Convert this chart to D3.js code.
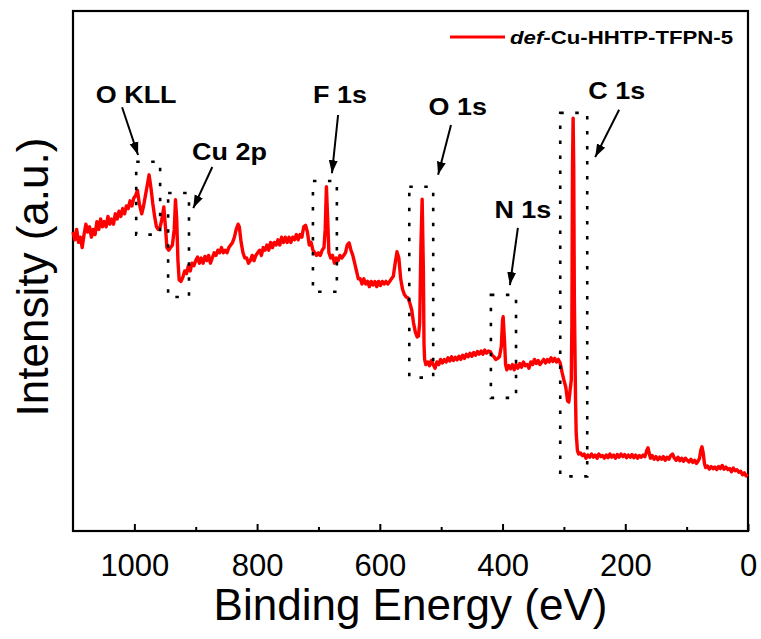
<!DOCTYPE html>
<html>
<head>
<meta charset="utf-8">
<script src="https://cdn.jsdelivr.net/npm/d3@7"></script>
<style>
  body { margin: 0; background: #fff; }
  text { font-family: "Liberation Sans", Arial, sans-serif; }
</style>
</head>
<body>
<div class="d3Chart"></div>
<script>
//#region data

// [binding energy (eV), intensity (a.u.)]
var spectrum = [
  [1100, 57.5], [1097, 56.0], [1094, 58.0], [1091, 55.5], [1088, 56.5], [1085, 54.5],
  [1082, 57.0], [1079, 59.0], [1076, 57.5], [1073, 58.5], [1070, 56.5], [1067, 58.0],
  [1064, 57.0], [1061, 59.5], [1058, 58.0], [1055, 60.0], [1052, 58.5], [1049, 59.5],
  [1046, 58.5], [1043, 60.5], [1040, 59.0], [1037, 60.0], [1034, 59.0], [1031, 61.0],
  [1028, 60.0], [1025, 61.5], [1022, 60.5], [1019, 62.0], [1016, 61.0], [1013, 62.5],
  [1010, 62.0], [1007, 63.5], [1004, 62.5], [1001, 64.0], [998, 64.5], [995, 65.5],
  [992, 63.0], [988, 61.0], [985, 62.5], [982, 64.5], [979, 66.5], [976, 68.5],
  [973, 66.0], [970, 63.0], [967, 60.5], [964, 58.5], [961, 58.0], [958, 58.5],
  [955, 60.0], [952, 62.3], [949, 58.0], [947, 54.5], [944, 54.0], [941, 54.5],
  [938, 55.0], [935, 58.0], [933, 63.7], [931, 60.0], [929, 52.0], [927, 48.3],
  [924, 48.0], [921, 48.8], [918, 50.0], [915, 49.5], [912, 51.0], [909, 50.0],
  [906, 51.5], [903, 51.0], [900, 52.0], [897, 52.7], [894, 51.5], [891, 52.5],
  [888, 51.5], [885, 52.8], [882, 52.0], [879, 53.0], [876, 51.5], [873, 52.5],
  [870, 53.5], [867, 53.0], [864, 54.0], [861, 53.5], [858, 54.5], [855, 53.5],
  [852, 54.0], [849, 53.5], [846, 54.5], [843, 55.0], [840, 55.5], [837, 56.5],
  [834, 58.0], [831, 59.0], [829, 58.5], [826, 55.5], [823, 53.5], [820, 52.5],
  [817, 52.5], [814, 51.5], [811, 52.0], [808, 53.0], [805, 52.0], [802, 53.0],
  [799, 53.5], [796, 54.0], [793, 53.0], [790, 54.5], [787, 54.0], [784, 55.0],
  [781, 54.0], [778, 55.5], [775, 54.5], [772, 55.5], [769, 55.0], [766, 56.0],
  [763, 55.0], [760, 56.5], [757, 55.5], [754, 56.5], [751, 55.5], [748, 56.5],
  [745, 55.5], [742, 56.5], [739, 56.0], [736, 57.0], [733, 56.0], [730, 57.0],
  [727, 56.5], [724, 58.5], [721, 58.8], [718, 57.5], [715, 55.0], [712, 55.5],
  [709, 54.0], [706, 53.5], [703, 53.0], [700, 53.5], [697, 53.0], [694, 54.0],
  [691, 54.5], [689, 58.0], [687, 66.2], [685, 60.0], [683, 53.5], [680, 52.5],
  [677, 53.0], [674, 51.5], [671, 52.5], [668, 52.0], [665, 53.0], [662, 52.5],
  [659, 53.0], [656, 53.5], [653, 55.0], [650, 55.4], [647, 54.0], [644, 53.0],
  [641, 51.5], [638, 50.0], [635, 48.5], [632, 48.5], [629, 47.5], [626, 48.5],
  [623, 47.5], [620, 48.0], [617, 47.0], [614, 48.0], [611, 47.3], [608, 48.0],
  [605, 47.0], [602, 48.0], [599, 47.2], [596, 48.0], [593, 47.5], [590, 48.0],
  [587, 47.5], [584, 48.0], [581, 48.5], [578, 49.0], [575, 51.5], [572, 53.7],
  [569, 52.5], [566, 48.5], [563, 46.5], [560, 45.5], [557, 45.0], [554, 44.8],
  [551, 43.8], [548, 42.5], [545, 40.0], [542, 38.2], [539, 37.3], [537, 37.5],
  [535, 40.0], [533, 55.0], [531, 63.8], [529, 50.0], [528, 36.0], [527, 33.0],
  [525, 32.0], [522, 32.5], [519, 31.8], [516, 32.8], [513, 32.0], [510, 31.3],
  [507, 32.5], [504, 32.0], [501, 33.0], [498, 32.3], [495, 33.0], [492, 32.5],
  [489, 33.3], [486, 32.7], [483, 33.5], [480, 32.8], [477, 33.4], [474, 32.9],
  [471, 33.6], [468, 33.0], [465, 33.8], [462, 33.2], [459, 34.0], [456, 33.5],
  [453, 34.2], [450, 33.6], [447, 34.3], [444, 33.8], [441, 34.5], [438, 34.0],
  [435, 34.6], [432, 34.0], [429, 34.8], [426, 34.2], [423, 34.6], [420, 34.5],
  [417, 33.8], [414, 33.5], [411, 33.0], [408, 33.2], [405, 33.5], [402, 35.5],
  [400, 40.5], [399, 41.2], [397, 37.0], [395, 32.0], [393, 31.0], [390, 31.8],
  [387, 31.2], [384, 32.0], [381, 31.0], [378, 32.0], [375, 31.3], [372, 32.2],
  [369, 31.5], [366, 32.5], [363, 31.8], [360, 32.0], [357, 31.3], [354, 32.5],
  [351, 32.0], [348, 33.0], [345, 32.2], [342, 32.8], [339, 32.0], [336, 32.5],
  [333, 33.0], [330, 32.3], [327, 33.0], [324, 32.5], [321, 33.3], [318, 32.6],
  [315, 33.2], [312, 32.5], [309, 33.0], [306, 32.3], [303, 30.5], [300, 29.0],
  [297, 27.7], [294, 25.0], [292, 24.8], [290, 27.0], [288, 29.0], [287, 40.0],
  [286, 70.0], [285, 79.4], [284, 70.0], [283, 45.0], [281, 25.0], [280, 18.8],
  [278, 15.5], [276, 14.8], [273, 15.0], [270, 14.5], [267, 14.8], [264, 14.0],
  [261, 14.6], [258, 14.2], [255, 14.8], [252, 14.2], [249, 14.6], [246, 14.0],
  [243, 14.8], [240, 14.3], [237, 14.5], [234, 14.0], [231, 14.6], [228, 14.1],
  [225, 14.8], [222, 14.2], [219, 14.6], [216, 14.0], [213, 14.7], [210, 14.2],
  [207, 14.8], [204, 14.3], [201, 14.7], [198, 14.1], [195, 14.6], [192, 14.2],
  [189, 14.7], [186, 14.1], [183, 14.6], [180, 14.0], [177, 14.5], [174, 14.2],
  [171, 14.6], [168, 14.3], [165, 15.5], [163, 16.0], [161, 15.0], [159, 14.0],
  [156, 14.5], [153, 13.8], [150, 14.3], [147, 13.7], [144, 14.2], [141, 13.8],
  [138, 14.3], [135, 13.6], [132, 14.2], [129, 13.8], [126, 14.5], [123, 14.8],
  [120, 14.0], [117, 13.6], [114, 14.2], [111, 13.5], [108, 14.0], [105, 13.4],
  [102, 14.0], [99, 13.6], [96, 13.3], [93, 13.8], [90, 13.2], [87, 13.6],
  [84, 13.0], [81, 13.5], [79, 14.0], [77, 15.5], [75, 16.2], [73, 15.0],
  [71, 13.0], [69, 12.2], [66, 12.5], [63, 11.9], [60, 12.4], [57, 12.0],
  [54, 12.3], [51, 11.8], [48, 12.4], [45, 12.0], [42, 12.6], [39, 11.9],
  [36, 12.3], [33, 11.8], [30, 12.0], [27, 11.4], [24, 12.1], [21, 11.6],
  [18, 11.8], [15, 11.3], [12, 11.5], [9, 10.8], [6, 11.2], [3, 10.6], [1, 11.0],
];

var majorTicks = [1000, 800, 600, 400, 200, 0];
var minorTicks = [900, 700, 500, 300, 100];
var seriesName = ["def", "-Cu-HHTP-TFPN-5"];

// peak labels (centre energy, baseline intensity)
var peakLabels = [
  { label: "O KLL", be: 997, at: 82.3 },
  { label: "Cu 2p", be: 845, at: 71.4 },
  { label: "F 1s", be: 665, at: 82.3 },
  { label: "O 1s", be: 473, at: 80.0 },
  { label: "N 1s", be: 367, at: 60.2 },
  { label: "C 1s", be: 214, at: 83.1 },
];

// dotted boxes round each peak
var peakBoxes = [
  { from: 997, to: 958, low: 57, high: 71 },
  { from: 945, to: 911, low: 45, high: 65 },
  { from: 709, to: 670, low: 46, high: 67.3 },
  { from: 552, to: 513, low: 29.5, high: 66.2 },
  { from: 419, to: 378, low: 25.6, high: 45.4 },
  { from: 306, to: 262, low: 10.5, high: 80.4 },
];

// arrows from label to box
var peakArrows = [
  { be0: 1020, i0: 81.5, be1: 994, i1: 72.3 },
  { be0: 873, i0: 70.0, be1: 904, i1: 62.1 },
  { be0: 668, i0: 80.0, be1: 678, i1: 68.8 },
  { be0: 484, i0: 78.1, be1: 505, i1: 68.5 },
  { be0: 375, i0: 58.3, be1: 388, i1: 47.3 },
  { be0: 210, i0: 81.0, be1: 249, i1: 71.9 },
];

//#endregion

//#region canvas

var width = 761;
var height = 639;
var margin = { top: 11, right: 13, bottom: 108, left: 73 };
var innerW = width - margin.left - margin.right;
var innerH = height - margin.top - margin.bottom;

var svg = d3
  .select(".d3Chart")
  .append("svg")
  .attr("width", width)
  .attr("height", height)
  .style("background-color", "#fff");

svg
  .append("defs")
  .append("marker")
  .attr("id", "arrow")
  .attr("viewBox", "0 -5 13 10")
  .attr("refX", 13)
  .attr("refY", 0)
  .attr("markerWidth", 13)
  .attr("markerHeight", 10)
  .attr("markerUnits", "userSpaceOnUse")
  .attr("orient", "auto")
  .append("path")
  .attr("d", "M0,-4.5L13,0L0,4.5Z")
  .attr("fill", "#000");

var chart = svg
  .append("g")
  .attr("transform", `translate(${margin.left}, ${margin.top})`);

//#endregion

//#region scales & axes

var x = d3.scaleLinear().domain([1100, 0]).range([0, innerW]);
var y = d3.scaleLinear().domain([0, 100]).range([innerH, 0]);

var xAxis = chart
  .append("g")
  .attr("transform", `translate(0, ${innerH})`)
  .call(
    d3
      .axisBottom(x)
      .tickValues(majorTicks)
      .tickFormat(d3.format("d"))
      .tickSize(-7)
      .tickPadding(23)
  );
xAxis.select(".domain").remove();
xAxis.selectAll("line").attr("stroke", "#000").attr("stroke-width", 2);
xAxis
  .selectAll("text")
  .attr("fill", "#000")
  .style("font-size", "31px")
  .style("font-family", '"Liberation Sans", Arial, sans-serif');

var xMinor = chart
  .append("g")
  .attr("transform", `translate(0, ${innerH})`)
  .call(d3.axisBottom(x).tickValues(minorTicks).tickSize(-4).tickFormat(""));
xMinor.select(".domain").remove();
xMinor.selectAll("line").attr("stroke", "#000").attr("stroke-width", 2);

chart
  .append("rect")
  .attr("width", innerW)
  .attr("height", innerH)
  .attr("fill", "none")
  .attr("stroke", "#000")
  .attr("stroke-width", 2.2);

svg
  .append("text")
  .attr("x", margin.left + innerW / 2)
  .attr("y", 620)
  .attr("text-anchor", "middle")
  .style("font-size", "44px")
  .text("Binding Energy (eV)");

svg
  .append("text")
  .attr("transform", `translate(48, ${margin.top + innerH / 2 + 6}) rotate(-90)`)
  .attr("text-anchor", "middle")
  .style("font-size", "44px")
  .text("Intensity (a.u.)");

//#endregion

//#region spectrum

var line = d3
  .line()
  .x((d) => x(d[0]))
  .y((d) => y(d[1]));

chart
  .append("path")
  .datum(spectrum)
  .attr("d", line)
  .attr("fill", "none")
  .attr("stroke", "#ff0000")
  .attr("stroke-width", 3.4)
  .attr("stroke-linejoin", "round");

//#endregion

//#region annotations

chart
  .selectAll(".box")
  .data(peakBoxes)
  .enter()
  .append("rect")
  .attr("class", "box")
  .attr("x", (d) => x(d.from))
  .attr("y", (d) => y(d.high))
  .attr("width", (d) => x(d.to) - x(d.from))
  .attr("height", (d) => y(d.low) - y(d.high))
  .attr("fill", "none")
  .attr("stroke", "#000")
  .attr("stroke-width", 2.6)
  .attr("stroke-dasharray", "3.5,11.5");

chart
  .selectAll(".arrow")
  .data(peakArrows)
  .enter()
  .append("line")
  .attr("class", "arrow")
  .attr("x1", (d) => x(d.be0))
  .attr("y1", (d) => y(d.i0))
  .attr("x2", (d) => x(d.be1))
  .attr("y2", (d) => y(d.i1))
  .attr("stroke", "#000")
  .attr("stroke-width", 2)
  .attr("marker-end", "url(#arrow)");

chart
  .selectAll(".peak")
  .data(peakLabels)
  .enter()
  .append("text")
  .attr("class", "peak")
  .attr("transform", (d) => `translate(${x(d.be)}, ${y(d.at)}) scale(1.17, 1)`)
  .attr("text-anchor", "middle")
  .style("font-size", "23px")
  .style("font-weight", "bold")
  .text((d) => d.label);

// legend
var legend = svg.append("g").attr("transform", "translate(450, 37)");
legend
  .append("line")
  .attr("x1", 0)
  .attr("x2", 55)
  .attr("stroke", "#ff0000")
  .attr("stroke-width", 3);
var legendText = legend
  .append("text")
  .attr("transform", "translate(60, 7) scale(1.2, 1)")
  .style("font-size", "18.5px")
  .style("font-weight", "bold");
legendText.append("tspan").style("font-style", "italic").text(seriesName[0]);
legendText.append("tspan").text(seriesName[1]);

//#endregion
</script>
</body>
</html>
